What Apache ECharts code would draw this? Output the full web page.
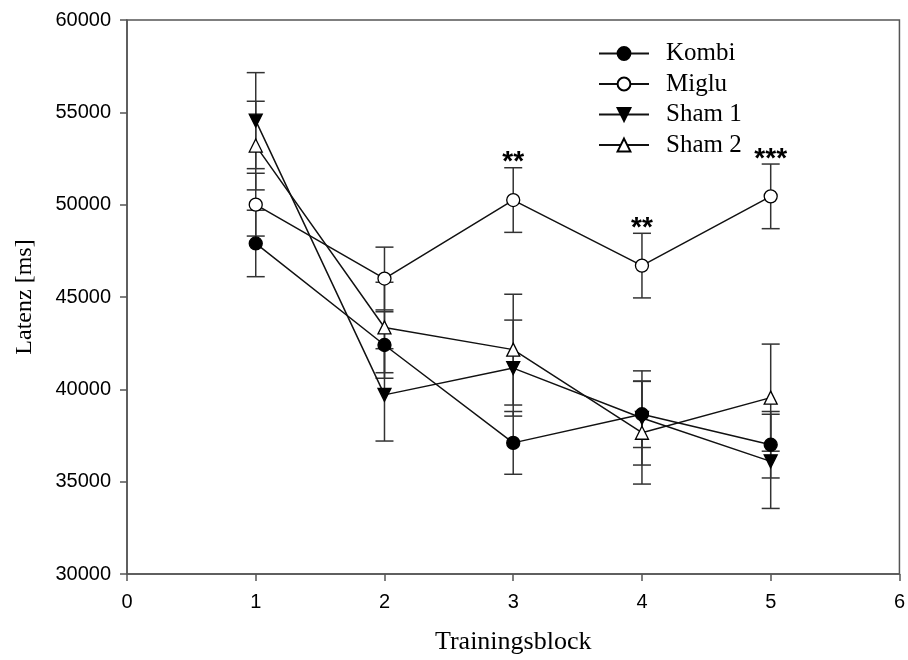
<!DOCTYPE html>
<html>
<head>
<meta charset="utf-8">
<script src="https://cdn.jsdelivr.net/npm/echarts@6/dist/echarts.min.js"></script>
<style>
  html, body { margin: 0; padding: 0; background: #fff; }
  #chart { width: 908px; height: 660px; }
</style>
</head>
<body>
<div id="chart"></div>
<script>
// ---- data ----
const blocks = [1, 2, 3, 4, 5];
const kombi     = [47900, 42400, 37100, 38650, 37000];
const kombiErr  = [1800, 1800, 1700, 1800, 1800];
const miglu     = [50000, 46000, 50250, 46700, 50450];
const migluErr  = [1700, 1700, 1750, 1750, 1750];
const sham1     = [54550, 39700, 41150, 38450, 36100];
const sham1Err  = [2600, 2500, 2600, 2550, 2550];
const sham2     = [53200, 43350, 42150, 37650, 39550];
const sham2Err  = [2400, 2450, 3000, 2780, 2900];
const sigMarks  = ['', '', '**', '**', '***'];
const xTicks = [0, 1, 2, 3, 4, 5, 6];
const yTicks = [30000, 35000, 40000, 45000, 50000, 55000, 60000];

const serifFont = '"Liberation Serif", "Times New Roman", serif';
const sansFont = '"Liberation Sans", Arial, sans-serif';

function pairs(vals) { return blocks.map((b, i) => [b, vals[i]]); }
function errData(vals, errs, marks) {
  return blocks.map((b, i) => [b, vals[i], errs[i], marks ? marks[i] : '']);
}

function errRender(params, api) {
  const x = api.value(0), v = api.value(1), e = api.value(2);
  const mark = api.value(3);
  const top = api.coord([x, v + e]);
  const bot = api.coord([x, v - e]);
  const hw = 9;
  const st = { stroke: '#333', lineWidth: 1.5 };
  const children = [
    { type: 'line', shape: { x1: top[0], y1: top[1], x2: bot[0], y2: bot[1] }, style: st },
    { type: 'line', shape: { x1: top[0] - hw, y1: top[1], x2: top[0] + hw, y2: top[1] }, style: st },
    { type: 'line', shape: { x1: bot[0] - hw, y1: bot[1], x2: bot[0] + hw, y2: bot[1] }, style: st }
  ];
  if (mark && mark !== '') {
    children.push({
      type: 'text',
      style: {
        text: mark, x: top[0], y: top[1] - 5,
        align: 'center', verticalAlign: 'middle',
        font: 'bold 28px ' + sansFont, fill: '#000'
      }
    });
  }
  return { type: 'group', children: children };
}

function errSeries(vals, errs, marks) {
  return {
    type: 'custom', z: 1, silent: true,
    renderItem: errRender,
    data: errData(vals, errs, marks),
    encode: { x: 0, y: [1] },
    clip: false
  };
}

function lineSeries(name, vals, symbol, fill, rotate) {
  return {
    name: name, type: 'line', z: 3,
    data: pairs(vals),
    symbol: symbol, symbolSize: 13, symbolRotate: rotate || 0,
    showAllSymbol: true,
    lineStyle: { color: '#111', width: 1.5 },
    itemStyle: { color: fill, borderColor: '#000', borderWidth: 1.3 },
    emphasis: { disabled: true },
    animation: false
  };
}

const chart = echarts.init(document.getElementById('chart'), null, { renderer: 'canvas' });
chart.setOption({
  animation: false,
  backgroundColor: '#fff',
  grid: {
    left: 127, right: 8, top: 20, bottom: 83,
    show: true, borderColor: '#555', borderWidth: 1.5, backgroundColor: 'transparent'
  },
  legend: {
    orient: 'vertical', left: 593, top: 36,
    itemWidth: 50, itemHeight: 16, itemGap: 5.5,
    textStyle: { fontFamily: serifFont, fontSize: 25, color: '#000', lineHeight: 25, padding: [0, 0, 0, 12] },
    data: ['Kombi', 'Miglu', 'Sham 1', 'Sham 2']
  },
  xAxis: {
    type: 'value', min: xTicks[0], max: xTicks[xTicks.length - 1], interval: 1,
    name: 'Trainingsblock', nameLocation: 'middle', nameGap: 55,
    nameTextStyle: { fontFamily: serifFont, fontSize: 26, color: '#000', verticalAlign: 'top' },
    axisLine: { show: true, lineStyle: { color: '#555', width: 1.5 } },
    axisTick: { show: true, inside: false, length: 7, lineStyle: { color: '#555', width: 1.5 } },
    axisLabel: { fontFamily: sansFont, fontSize: 20, color: '#000', margin: 18, formatter: v => String(v) },
    splitLine: { show: false }
  },
  yAxis: {
    type: 'value', min: yTicks[0], max: yTicks[yTicks.length - 1], interval: 5000,
    name: 'Latenz [ms]', nameLocation: 'middle', nameGap: 90, nameRotate: 90,
    nameTextStyle: { fontFamily: serifFont, fontSize: 24, color: '#000' },
    axisLine: { show: true, lineStyle: { color: '#555', width: 1.5 } },
    axisTick: { show: true, inside: false, length: 7, lineStyle: { color: '#555', width: 1.5 } },
    axisLabel: { fontFamily: sansFont, fontSize: 20, color: '#000', margin: 16, formatter: v => String(v) },
    splitLine: { show: false }
  },
  series: [
    errSeries(kombi, kombiErr),
    errSeries(miglu, migluErr, sigMarks),
    errSeries(sham1, sham1Err),
    errSeries(sham2, sham2Err),
    lineSeries('Kombi', kombi, 'circle', '#000'),
    lineSeries('Miglu', miglu, 'circle', '#fff'),
    lineSeries('Sham 1', sham1, 'triangle', '#000', 180),
    lineSeries('Sham 2', sham2, 'triangle', '#fff')
  ]
});
</script>
</body>
</html>
